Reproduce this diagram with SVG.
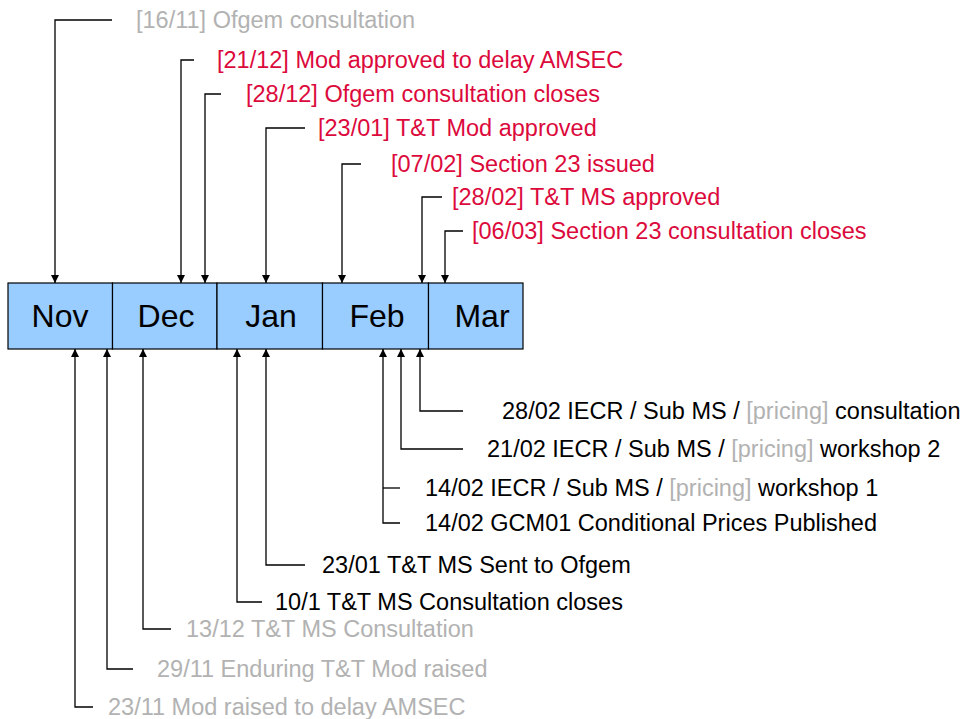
<svg xmlns="http://www.w3.org/2000/svg" width="965" height="719" viewBox="0 0 965 719">
<style>
  .lbl { font-family: "Liberation Sans", Arial, sans-serif; font-size: 23.5px; }
  .gray { fill: #b2b2b2; }
  .red { fill: #dc0a3c; }
  .blk { fill: #000000; }
  .month { font-family: "Liberation Sans", Arial, sans-serif; font-size: 32px; fill: #000; text-anchor: middle; }
  .box { fill: #99ccff; stroke: #000; stroke-width: 1.2; }
  .conn { fill: none; stroke: #000; stroke-width: 1.3; }
</style>
<defs>
  <marker id="ah" viewBox="0 0 10 10" refX="10" refY="5" markerWidth="8" markerHeight="8" markerUnits="userSpaceOnUse" orient="auto">
    <path d="M0,0 L10,5 L0,10 Z" fill="#000"/>
  </marker>
</defs>
<rect width="965" height="719" fill="#ffffff"/>

<g id="months">
  <g id="nov"><rect class="box" x="8" y="283" width="104.5" height="66"/><text class="month" x="60" y="327">Nov</text></g>
  <g id="dec"><rect class="box" x="112.5" y="283" width="104.5" height="66"/><text class="month" x="166" y="327">Dec</text></g>
  <g id="jan"><rect class="box" x="217" y="283" width="105.5" height="66"/><text class="month" x="271" y="327">Jan</text></g>
  <g id="feb"><rect class="box" x="322.5" y="283" width="106" height="66"/><text class="month" x="377" y="327">Feb</text></g>
  <g id="mar"><rect class="box" x="428.5" y="283" width="94.5" height="66"/><text class="month" x="482" y="327">Mar</text></g>
</g>

<g id="connectors">
  <!-- top -->
  <path class="conn" d="M112,20 H55 V283" marker-end="url(#ah)"/>
  <path class="conn" d="M194,60 H181 V283" marker-end="url(#ah)"/>
  <path class="conn" d="M221,94 H205 V283" marker-end="url(#ah)"/>
  <path class="conn" d="M305,128 H266 V283" marker-end="url(#ah)"/>
  <path class="conn" d="M361,164 H342 V283" marker-end="url(#ah)"/>
  <path class="conn" d="M442,197 H422 V283" marker-end="url(#ah)"/>
  <path class="conn" d="M463,231 H445 V283" marker-end="url(#ah)"/>
  <!-- bottom -->
  <path class="conn" d="M463,411 H420 V349" marker-end="url(#ah)"/>
  <path class="conn" d="M463,449 H401 V349" marker-end="url(#ah)"/>
  <path class="conn" d="M400,523 H383 V349" marker-end="url(#ah)"/>
  <path class="conn" d="M383,488 H400"/>
  <path class="conn" d="M305,565 H266 V349" marker-end="url(#ah)"/>
  <path class="conn" d="M262,602 H237 V349" marker-end="url(#ah)"/>
  <path class="conn" d="M171,629 H143 V349" marker-end="url(#ah)"/>
  <path class="conn" d="M133,669 H107 V349" marker-end="url(#ah)"/>
  <path class="conn" d="M93,707 H75 V349" marker-end="url(#ah)"/>
</g>

<g id="top-labels">
  <g id="t1"><text class="lbl gray" x="136" y="28">[16/11] Ofgem consultation</text></g>
  <g id="t2"><text class="lbl red" x="217" y="68">[21/12] Mod approved to delay AMSEC</text></g>
  <g id="t3"><text class="lbl red" x="246" y="102">[28/12] Ofgem consultation closes</text></g>
  <g id="t4"><text class="lbl red" x="318" y="136">[23/01] T&amp;T Mod approved</text></g>
  <g id="t5"><text class="lbl red" x="391" y="172">[07/02] Section 23 issued</text></g>
  <g id="t6"><text class="lbl red" x="452" y="205">[28/02] T&amp;T MS approved</text></g>
  <g id="t7"><text class="lbl red" x="472" y="239">[06/03] Section 23 consultation closes</text></g>
</g>

<g id="bottom-labels">
  <g id="b1"><text class="lbl blk" x="502" y="419">28/02 IECR / Sub MS / <tspan class="gray">[pricing]</tspan> consultation</text></g>
  <g id="b2"><text class="lbl blk" x="487" y="457">21/02 IECR / Sub MS / <tspan class="gray">[pricing]</tspan> workshop 2</text></g>
  <g id="b3"><text class="lbl blk" x="425" y="496">14/02 IECR / Sub MS / <tspan class="gray">[pricing]</tspan> workshop 1</text></g>
  <g id="b4"><text class="lbl blk" x="425" y="531">14/02 GCM01 Conditional Prices Published</text></g>
  <g id="b5"><text class="lbl blk" x="322" y="573">23/01 T&amp;T MS Sent to Ofgem</text></g>
  <g id="b6"><text class="lbl blk" x="275" y="610">10/1 T&amp;T MS Consultation closes</text></g>
  <g id="b7"><text class="lbl gray" x="186" y="637">13/12 T&amp;T MS Consultation</text></g>
  <g id="b8"><text class="lbl gray" x="157" y="677">29/11 Enduring T&amp;T Mod raised</text></g>
  <g id="b9"><text class="lbl gray" x="108" y="715">23/11 Mod raised to delay AMSEC</text></g>
</g>
</svg>
